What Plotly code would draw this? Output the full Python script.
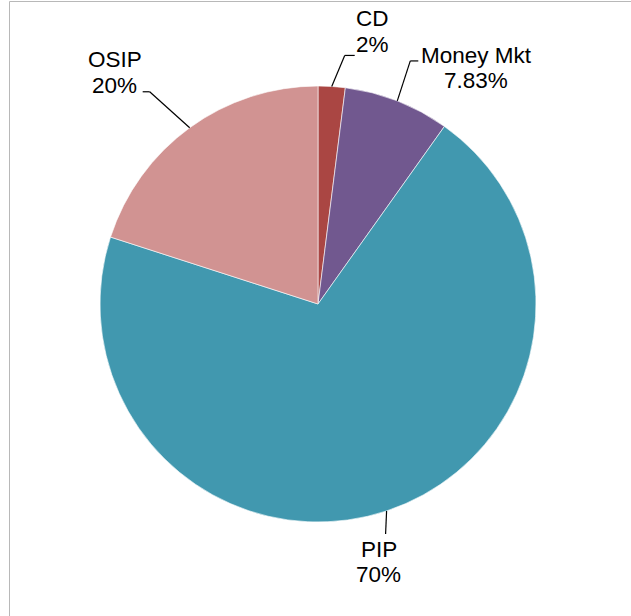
import math
import plotly.graph_objects as go

# ---- data ----
categories = ["CD", "Money Mkt", "PIP", "OSIP"]
values = [2, 7.83, 70, 20]
value_labels = ["2%", "7.83%", "70%", "20%"]
colors = ["#AA4643", "#71588F", "#4198AF", "#D19392"]

# ---- canvas / geometry (style) ----
W, H = 631, 616
CX, CY, R = 318, 304, 218          # pie centre and radius in pixels
FONT = 22.5
LINE_GAP = 25.5
# leader-line style per slice:
# (elbow dx, elbow dy, horizontal run, text dx from line end, baseline of first line relative to elbow)
leader = {
    "CD": (13, -31, 10, 18, -29),
    "Money Mkt": (13, -40, 8, 58, 2),
    "PIP": (-1, 23, 0, -7, 23),
    "OSIP": (-40, -36, -7, -28, -24),
}


def px(x):
    return x / W


def py(y):
    return 1 - y / H


fig = go.Figure(go.Pie(
    labels=categories,
    values=values,
    marker=dict(colors=colors, line=dict(color="rgba(255,255,255,0.6)", width=1)),
    sort=False,
    direction="clockwise",
    rotation=0,
    textinfo="none",
    hoverinfo="label+percent",
    showlegend=False,
    domain=dict(x=[px(CX - R), px(CX + R)], y=[py(CY + R), py(CY - R)]),
))

shapes = []
annotations = []
total = sum(values)
cum = 0.0
for cat, val, lab in zip(categories, values, value_labels):
    mid = (cum + val / 2) / total * 2 * math.pi
    cum += val
    ex = CX + R * math.sin(mid)
    ey = CY - R * math.cos(mid)
    dx, dy, run, tdx, bdy = leader[cat]
    bx, by = ex + dx, ey + dy
    endx = bx + run
    shapes.append(dict(type="line", xref="paper", yref="paper",
                       x0=px(ex), y0=py(ey), x1=px(bx), y1=py(by),
                       line=dict(color="#000000", width=1.2)))
    if run:
        shapes.append(dict(type="line", xref="paper", yref="paper",
                           x0=px(bx), y0=py(by), x1=px(endx), y1=py(by),
                           line=dict(color="#000000", width=1.2)))
    tx = endx + tdx
    base1 = by + bdy
    base2 = base1 + LINE_GAP
    for txt, base in ((cat, base1), (lab, base2)):
        annotations.append(dict(
            text=txt, xref="paper", yref="paper",
            x=px(tx), y=py(base - 0.35 * FONT),
            xanchor="center", yanchor="middle", showarrow=False,
            font=dict(family="Liberation Sans, Arial, sans-serif", size=FONT, color="#000000"),
        ))

# outer chart frame (partially cropped)
shapes.append(dict(type="rect", xref="paper", yref="paper",
                   x0=px(9.5), y0=py(H + 10), x1=px(W + 10), y1=py(1.5),
                   line=dict(color="#B8B8B8", width=1), layer="below"))

fig.update_layout(
    width=W, height=H,
    margin=dict(l=0, r=0, t=0, b=0),
    paper_bgcolor="#FFFFFF",
    plot_bgcolor="#FFFFFF",
    shapes=shapes,
    annotations=annotations,
)

fig.write_html(
    "out.html",
    config={"displayModeBar": False},
    post_script="document.body.style.margin='0';document.body.style.overflow='hidden';",
)
